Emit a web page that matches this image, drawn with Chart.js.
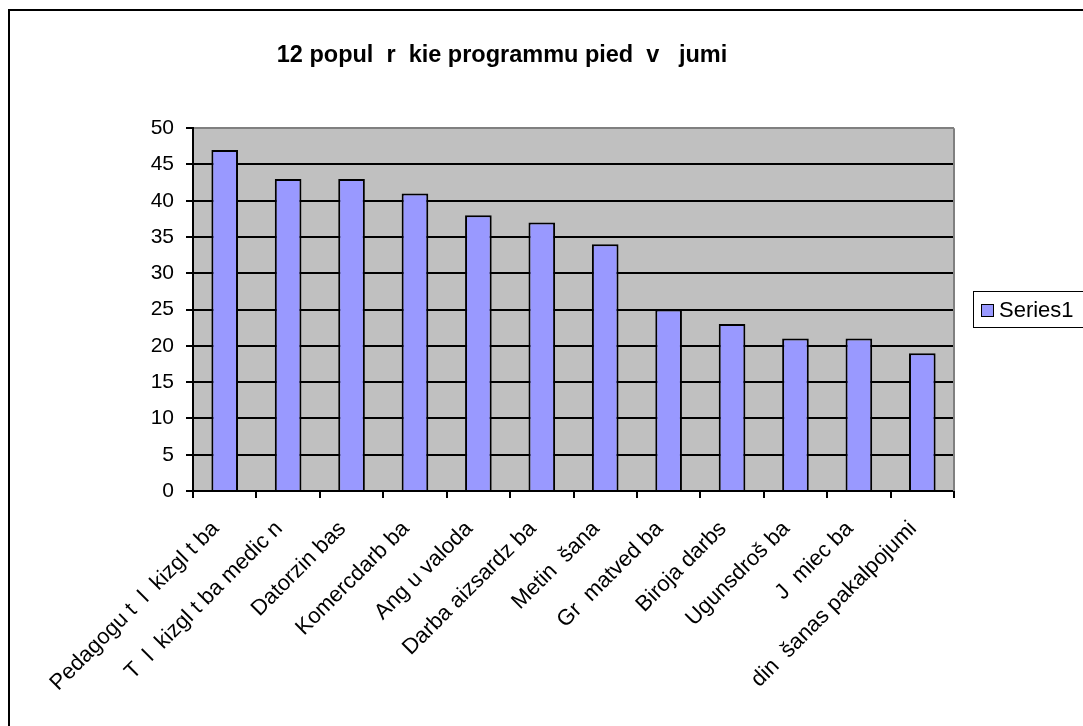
<!DOCTYPE html>
<html>
<head>
<meta charset="utf-8">
<script src="https://cdn.jsdelivr.net/npm/chart.js@4/dist/chart.umd.min.js"></script>
<style>
    html, body { margin: 0; padding: 0; background: #fff; overflow: hidden; }
    #frame { position: absolute; left: 8px; top: 9px; width: 1200px; height: 900px; border: 2px solid #000; }
    #wrap { position: absolute; left: 0; top: 0; width: 1083px; height: 726px; }
</style>
</head>
<body>
<div id="frame"></div>
<div id="wrap"><canvas id="chart" width="1083" height="726"></canvas></div>
<script>
// ========================================
// DATI
// ========================================
const chartTitle = '12 popul  r  kie programmu pied  v   jumi';
const categories = [
    'Pedagogu t  l  kizgl t ba',
    'T  l  kizgl t ba medic n',
    'Datorzin bas',
    'Komercdarb ba',
    'Ang u valoda',
    'Darba aizsardz ba',
    'Metin  šana',
    'Gr  matved ba',
    'Biroja darbs',
    'Ugunsdroš ba',
    'J  miec ba',
    ' din  šanas pakalpojumi'
];
const series1 = [47, 43, 43, 41, 38, 37, 34, 25, 23, 21, 21, 19];
const seriesName = 'Series1';
const yTicks = [0, 5, 10, 15, 20, 25, 30, 35, 40, 45, 50];

const FONT = 'Arial, "Liberation Sans", sans-serif';

// ========================================
// PLUGINS
// ========================================
const plotBackground = {
    id: 'plotBackground',
    beforeDraw(chart) {
        const { ctx, chartArea: a } = chart;
        ctx.save();
        ctx.fillStyle = '#C0C0C0';
        ctx.fillRect(a.left, a.top, a.right - a.left, a.bottom - a.top);
        ctx.restore();
    },
    afterDatasetsDraw(chart) {
        const { ctx, chartArea: a } = chart;
        ctx.save();
        ctx.strokeStyle = '#808080';
        ctx.lineWidth = 2;
        ctx.beginPath();
        ctx.moveTo(a.right, a.top);
        ctx.lineTo(a.right, a.bottom);
        ctx.stroke();
        ctx.restore();
    }
};

const boxLegend = {
    id: 'boxLegend',
    afterDraw(chart) {
        const ctx = chart.ctx;
        const ds = chart.data.datasets[0];
        ctx.save();
        ctx.lineWidth = 1;
        ctx.strokeStyle = '#000';
        ctx.fillStyle = '#fff';
        ctx.fillRect(973.5, 291.5, 200, 36);
        ctx.strokeRect(973.5, 291.5, 200, 36);
        ctx.fillStyle = ds.backgroundColor;
        ctx.fillRect(981.5, 304.5, 12, 12);
        ctx.strokeRect(981.5, 304.5, 12, 12);
        ctx.fillStyle = '#000';
        ctx.font = '22px ' + FONT;
        ctx.textBaseline = 'middle';
        ctx.fillText(ds.label, 999, 311);
        ctx.restore();
    }
};

// ========================================
// GRAFICO
// ========================================
new Chart(document.getElementById('chart'), {
    type: 'bar',
    data: {
        labels: categories,
        datasets: [{
            label: seriesName,
            data: series1,
            backgroundColor: '#9999FF',
            borderColor: '#000',
            borderWidth: 2,
            barPercentage: 0.42,
            categoryPercentage: 1
        }]
    },
    options: {
        responsive: false,
        animation: false,
        layout: { padding: { left: 50, right: 129, top: 0, bottom: 0 } },
        plugins: {
            legend: { display: false },
            tooltip: { enabled: false },
            title: {
                display: true,
                text: chartTitle,
                color: '#000',
                font: { family: FONT, size: 23.5, weight: 'bold' },
                padding: { top: 41, bottom: 59 }
            }
        },
        scales: {
            x: {
                afterFit: s => { s.height = 235; },
                grid: {
                    offset: true,
                    drawOnChartArea: false,
                    drawTicks: true,
                    tickLength: 7,
                    color: '#000',
                    lineWidth: 2
                },
                border: { color: '#000', width: 2 },
                ticks: {
                    autoSkip: false,
                    minRotation: 45,
                    maxRotation: 45,
                    padding: 18,
                    labelOffset: -9,
                    color: '#000',
                    font: { family: FONT, size: 22 }
                }
            },
            y: {
                min: 0,
                max: 50,
                afterFit: s => { s.width = 143; },
                afterBuildTicks: s => { s.ticks = yTicks.map(v => ({ value: v })); },
                grid: {
                    color: ctx => (ctx.tick && ctx.tick.value === 50 ? '#808080' : '#000'),
                    lineWidth: 2,
                    tickLength: 7,
                    tickColor: '#000'
                },
                border: { color: '#000', width: 2 },
                ticks: {
                    padding: 12,
                    color: '#000',
                    font: { family: FONT, size: 21 }
                }
            }
        }
    },
    plugins: [plotBackground, boxLegend]
});
</script>
</body>
</html>
